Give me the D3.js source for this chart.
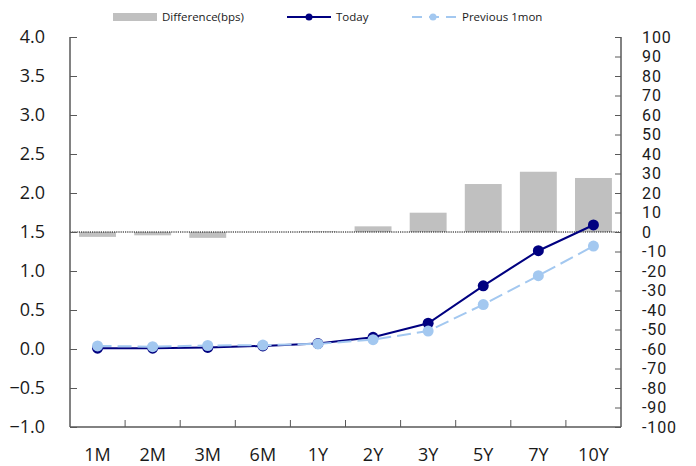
<!DOCTYPE html>
<html>
<head>
<meta charset="utf-8">
<script src="https://cdn.jsdelivr.net/npm/d3@7"></script>
<style>
  html, body { margin: 0; padding: 0; background: #fff; }
  svg { display: block; font-family: "Open Sans", "Noto Sans", sans-serif; }
</style>
</head>
<body>
<svg id="chart" width="696" height="466"></svg>
<script>
// Tenors and yields (%)
const tenors = ["1M", "2M", "3M", "6M", "1Y", "2Y", "3Y", "5Y", "7Y", "10Y"];
const today = [0.01, 0.01, 0.02, 0.04, 0.07, 0.15, 0.33, 0.81, 1.26, 1.59];
const previous = [0.04, 0.03, 0.045, 0.05, 0.065, 0.12, 0.23, 0.57, 0.94, 1.32];
// Change over the month, basis points
const difference = [-2.5, -1.7, -3, 0, 0.3, 2.9, 9.9, 24.6, 30.9, 27.7];

const leftTicks = [-1.0, -0.5, 0.0, 0.5, 1.0, 1.5, 2.0, 2.5, 3.0, 3.5, 4.0];
const rightTicks = d3.range(-100, 101, 10);

const svg = d3.select("#chart");
const m = { left: 70, right: 621, top: 37, bottom: 427 };

const x = d3.scaleBand().domain(tenors).range([m.left, m.right]).paddingInner(0).paddingOuter(0);
const yL = d3.scaleLinear().domain([-1, 4]).range([m.bottom, m.top]);
const yR = d3.scaleLinear().domain([-100, 100]).range([m.bottom, m.top]);

const axisColor = "#595959";
const textColor = "#1a1a1a";

// Difference bars on the right axis
const barW = x.bandwidth() * 0.67;
svg.append("g").selectAll("rect").data(tenors).join("rect")
  .attr("x", d => x(d) + (x.bandwidth() - barW) / 2)
  .attr("y", (d, i) => Math.min(yR(difference[i]), yR(0)))
  .attr("width", barW)
  .attr("height", (d, i) => Math.abs(yR(difference[i]) - yR(0)))
  .attr("fill", "#c0c0c0");

// Zero line of the difference axis
svg.append("line")
  .attr("x1", m.left).attr("x2", m.right)
  .attr("y1", yR(0)).attr("y2", yR(0))
  .attr("stroke", "#000").attr("stroke-width", 1)
  .attr("stroke-dasharray", "1.2,1");

// Left axis
const gL = svg.append("g").attr("transform", `translate(${m.left},0)`)
  .call(d3.axisRight(yL).tickValues(leftTicks).tickSize(7).tickFormat(""));
gL.select(".domain").remove();
gL.selectAll("line").attr("stroke", axisColor);
svg.append("line").attr("x1", m.left).attr("x2", m.left).attr("y1", m.top).attr("y2", m.bottom)
  .attr("stroke", axisColor).attr("stroke-width", 1.5);
svg.append("g").selectAll("text").data(leftTicks).join("text")
  .attr("x", 45).attr("y", d => yL(d)).attr("dy", "0.35em")
  .attr("text-anchor", "end").attr("font-size", 18).attr("fill", textColor)
  .text(d => d3.format(".1f")(d));

// Right axis (tight label spacing, so a compact font is used)
const gR = svg.append("g").attr("transform", `translate(${m.right},0)`)
  .call(d3.axisLeft(yR).tickValues(rightTicks).tickSize(6).tickFormat(""));
gR.select(".domain").remove();
gR.selectAll("line").attr("stroke", axisColor);
svg.append("line").attr("x1", m.right).attr("x2", m.right).attr("y1", m.top).attr("y2", m.bottom)
  .attr("stroke", axisColor).attr("stroke-width", 1.5);
svg.append("g").selectAll("text").data(rightTicks).join("text")
  .attr("x", 642).attr("y", d => yR(d)).attr("dy", "0.36em")
  .attr("text-anchor", "start").attr("font-size", 16)
  .attr("font-family", "Roboto, 'Open Sans', sans-serif")
  .attr("letter-spacing", "0.9").attr("fill", textColor)
  .text(d => d);

// Bottom axis with ticks between categories
svg.append("line").attr("x1", m.left).attr("x2", m.right).attr("y1", m.bottom).attr("y2", m.bottom)
  .attr("stroke", axisColor).attr("stroke-width", 1.5);
svg.append("g").selectAll("line").data(tenors.slice(1)).join("line")
  .attr("x1", d => x(d)).attr("x2", d => x(d))
  .attr("y1", m.bottom).attr("y2", m.bottom - 7)
  .attr("stroke", axisColor);
svg.append("g").selectAll("text").data(tenors).join("text")
  .attr("x", d => x(d) + x.bandwidth() / 2).attr("y", 455).attr("dy", "0.35em")
  .attr("text-anchor", "middle").attr("font-size", 18).attr("fill", textColor)
  .text(d => d);

// Yield lines
const cx = d => x(d) + x.bandwidth() / 2;
const line = vals => d3.line().x((d, i) => cx(tenors[i])).y(d => yL(d))(vals);

const todayColor = "#000080";
const prevColor = "#a3c8f0";

svg.append("path").attr("d", line(today)).attr("fill", "none")
  .attr("stroke", todayColor).attr("stroke-width", 2);
svg.append("g").selectAll("circle").data(today).join("circle")
  .attr("cx", (d, i) => cx(tenors[i])).attr("cy", d => yL(d)).attr("r", 5.5)
  .attr("fill", todayColor);

svg.append("path").attr("d", line(previous)).attr("fill", "none")
  .attr("stroke", prevColor).attr("stroke-width", 2).attr("stroke-dasharray", "14,6");
svg.append("g").selectAll("circle").data(previous).join("circle")
  .attr("cx", (d, i) => cx(tenors[i])).attr("cy", d => yL(d)).attr("r", 5.5)
  .attr("fill", prevColor);

// Legend
const lg = svg.append("g").attr("font-size", 11.5).attr("fill", textColor);
lg.append("rect").attr("x", 113).attr("y", 13).attr("width", 44).attr("height", 8).attr("fill", "#c0c0c0");
lg.append("text").attr("x", 162).attr("y", 17).attr("dy", "0.35em").text("Difference(bps)");

lg.append("line").attr("x1", 287).attr("x2", 331).attr("y1", 17).attr("y2", 17)
  .attr("stroke", todayColor).attr("stroke-width", 2);
lg.append("circle").attr("cx", 309).attr("cy", 17).attr("r", 3.5).attr("fill", todayColor);
lg.append("text").attr("x", 336).attr("y", 17).attr("dy", "0.35em").text("Today");

lg.append("line").attr("x1", 412).attr("x2", 457).attr("y1", 17).attr("y2", 17)
  .attr("stroke", prevColor).attr("stroke-width", 2).attr("stroke-dasharray", "10,7");
lg.append("circle").attr("cx", 433).attr("cy", 17).attr("r", 3.5).attr("fill", prevColor);
lg.append("text").attr("x", 462).attr("y", 17).attr("dy", "0.35em").text("Previous 1mon");
</script>
</body>
</html>
